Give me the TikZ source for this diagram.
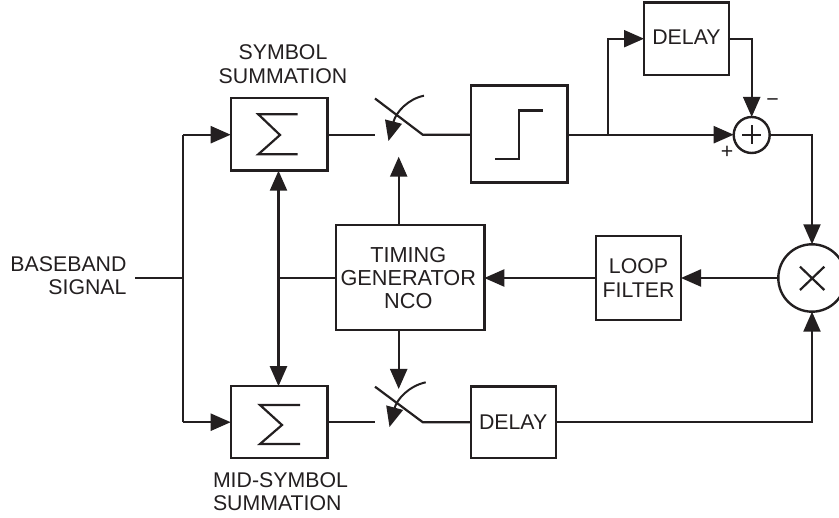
\documentclass[tikz,border=0pt]{standalone}
\usepackage{fontspec}
\setmainfont{Liberation Sans}
\usetikzlibrary{arrows.meta,calc}
\definecolor{ink}{HTML}{231F20}
\tikzset{
  x=1pt,y=-1pt,
  wire/.style={draw=ink,line width=2.2pt},
  arr/.style={wire,-{Triangle[length=20pt,width=17pt]}},
  biarr/.style={wire,{Triangle[length=20pt,width=17pt]}-{Triangle[length=20pt,width=17pt]}},
  box/.style={draw=ink,line width=2.4pt,inner sep=0pt,outer sep=0pt,align=center,text=ink,font=\fontsize{21.3}{23.2}\selectfont},
  lab/.style={inner sep=0pt,outer sep=0pt,align=center,text=ink,font=\fontsize{21.3}{23.2}\selectfont},
  small/.style={inner sep=0pt,outer sep=0pt,text=ink,font=\fontsize{21.3}{23}\selectfont},
  circ/.style={circle,draw=ink,line width=2.4pt,inner sep=0pt,outer sep=0pt},
  glyph/.style={draw=ink,line width=2.2pt,miter limit=10},
}
\begin{document}
\begin{tikzpicture}
\useasboundingbox (0,0) rectangle (839,518);
\fill[white] (0,0) rectangle (839,518);
% boxes
\node[box,minimum width=96.6pt,minimum height=72.4pt] (sumT) at (279,134.5) {};
\node[box,minimum width=96.6pt,minimum height=72pt] (sumB) at (279,422.2) {};
\node[box,minimum width=96.6pt,minimum height=97pt] (step) at (519,134.2) {};
\node[box,minimum width=85pt,minimum height=72.7pt] (delayT) at (686.5,38.7) {\raisebox{2.4pt}{DELAY}};
\node[box,minimum width=85pt,minimum height=71.6pt] (delayB) at (513.2,422.5) {DELAY};
\node[box,minimum width=148.6pt,minimum height=105.3pt] (timing) at (410,277.4) {};
\node[box,minimum width=85pt,minimum height=84pt] (loop) at (638.5,278) {LOOP\\FILTER};
\node[circ,minimum size=36pt] (add) at (751.7,135) {};
\node[circ,minimum size=67.4pt] (mul) at (812,278) {};
% labels
\node[lab,font=\fontsize{21.7}{23.2}\selectfont] (timingtext) at (408.3,278) {TIMING\\GENERATOR\\NCO};
\node[lab,anchor=east] (bb) at (126.5,278) {\begin{tabular}{@{}r@{}}BASEBAND\\SIGNAL\end{tabular}};
\node[lab] (symT) at (283,64.2) {SYMBOL\\SUMMATION};
\node[lab,anchor=west] (symB) at (213,494) {\begin{tabular}{@{}l@{}}MID-SYMBOL\\SUMMATION\end{tabular}};
\node[small] (minus) at (772.7,102.7) {\textminus};
\node[small] (plus) at (727,152.3) {+};
% coordinates
\coordinate (in) at (135,278.3);
\coordinate (j) at (183,278.3);
\coordinate (jT) at (183,134.7);
\coordinate (jB) at (183,422.2);
\coordinate (sw1a) at (375,134.7);
\coordinate (sw1b) at (422.7,134.7);
\coordinate (sw1c) at (375,98.5);
\coordinate (sw2a) at (375,422.2);
\coordinate (sw2b) at (422.7,422.2);
\coordinate (sw2c) at (375,386.7);
\coordinate (tap) at (608.3,134.7);
\coordinate (mid) at (278.5,278.3);
\coordinate (ctl) at (398.7,278);
\coordinate (ctlT) at (398.7,156.7);
\coordinate (ctlB) at (398.7,389);
% input
\draw[wire] (in) -- (j);
\draw[wire] (jB) -- (jT);
\draw[arr] (jT) -- (jT -| sumT.west);
\draw[arr] (jB) -- (jB -| sumB.west);
% bidirectional
\draw[biarr] (sumT.south -| mid) -- (sumB.north -| mid);
\draw[wire] (mid) -- (mid -| timing.west);
% top path
\draw[wire] (sumT.east |- sw1a) -- (sw1a);
\draw[wire] (sw1c) -- (sw1b) -- (sw1b -| step.west);
\draw[wire] (step.east |- tap) -- (tap);
\draw[arr] (tap) -- (add.west |- tap);
\draw[arr] (tap) -- (tap |- delayT.west) -- (delayT.west);
\draw[arr] (delayT.east) -| (add.north);
\draw[arr] (add.east) -| (mul.north);
% switch arcs
\draw[arr,line width=2pt] (424,95.7) .. controls (408,99) and (396,112) .. (388.5,141);
\draw[arr,line width=2pt] (425.7,382.3) .. controls (409,386) and (397,399) .. (389.5,427);
% bottom path
\draw[wire] (sumB.east |- sw2a) -- (sw2a);
\draw[wire] (sw2c) -- (sw2b) -- (sw2b -| delayB.west);
\draw[arr] (delayB.east |- sw2b) -| (mul.south);
% timing
\draw[arr] (timing.north -| ctl) -- (ctlT);
\draw[arr] (timing.south -| ctl) -- (ctlB);
\draw[arr] (mul.west) -- (loop.east);
\draw[arr] (loop.west) -- (timing.east |- loop.west);
% glyphs
\draw[glyph] (297.7,114.3) -- (258.3,114.3) -- (280,135) -- (258.3,154.3) -- (297.7,154.3);
\draw[glyph] (300,405) -- (260,405) -- (282,425) -- (260,444) -- (300,444);
\draw[glyph] (495,158.7) -- (519,158.7) -- (519,110.5) -- (542.7,110.5);
\draw[glyph] (742.2,135) -- (761.2,135) (751.7,125.5) -- (751.7,144.5);
\draw[glyph] (800,266.7) -- (824.3,290) (824.3,266.7) -- (800,290);
\end{tikzpicture}
\end{document}
